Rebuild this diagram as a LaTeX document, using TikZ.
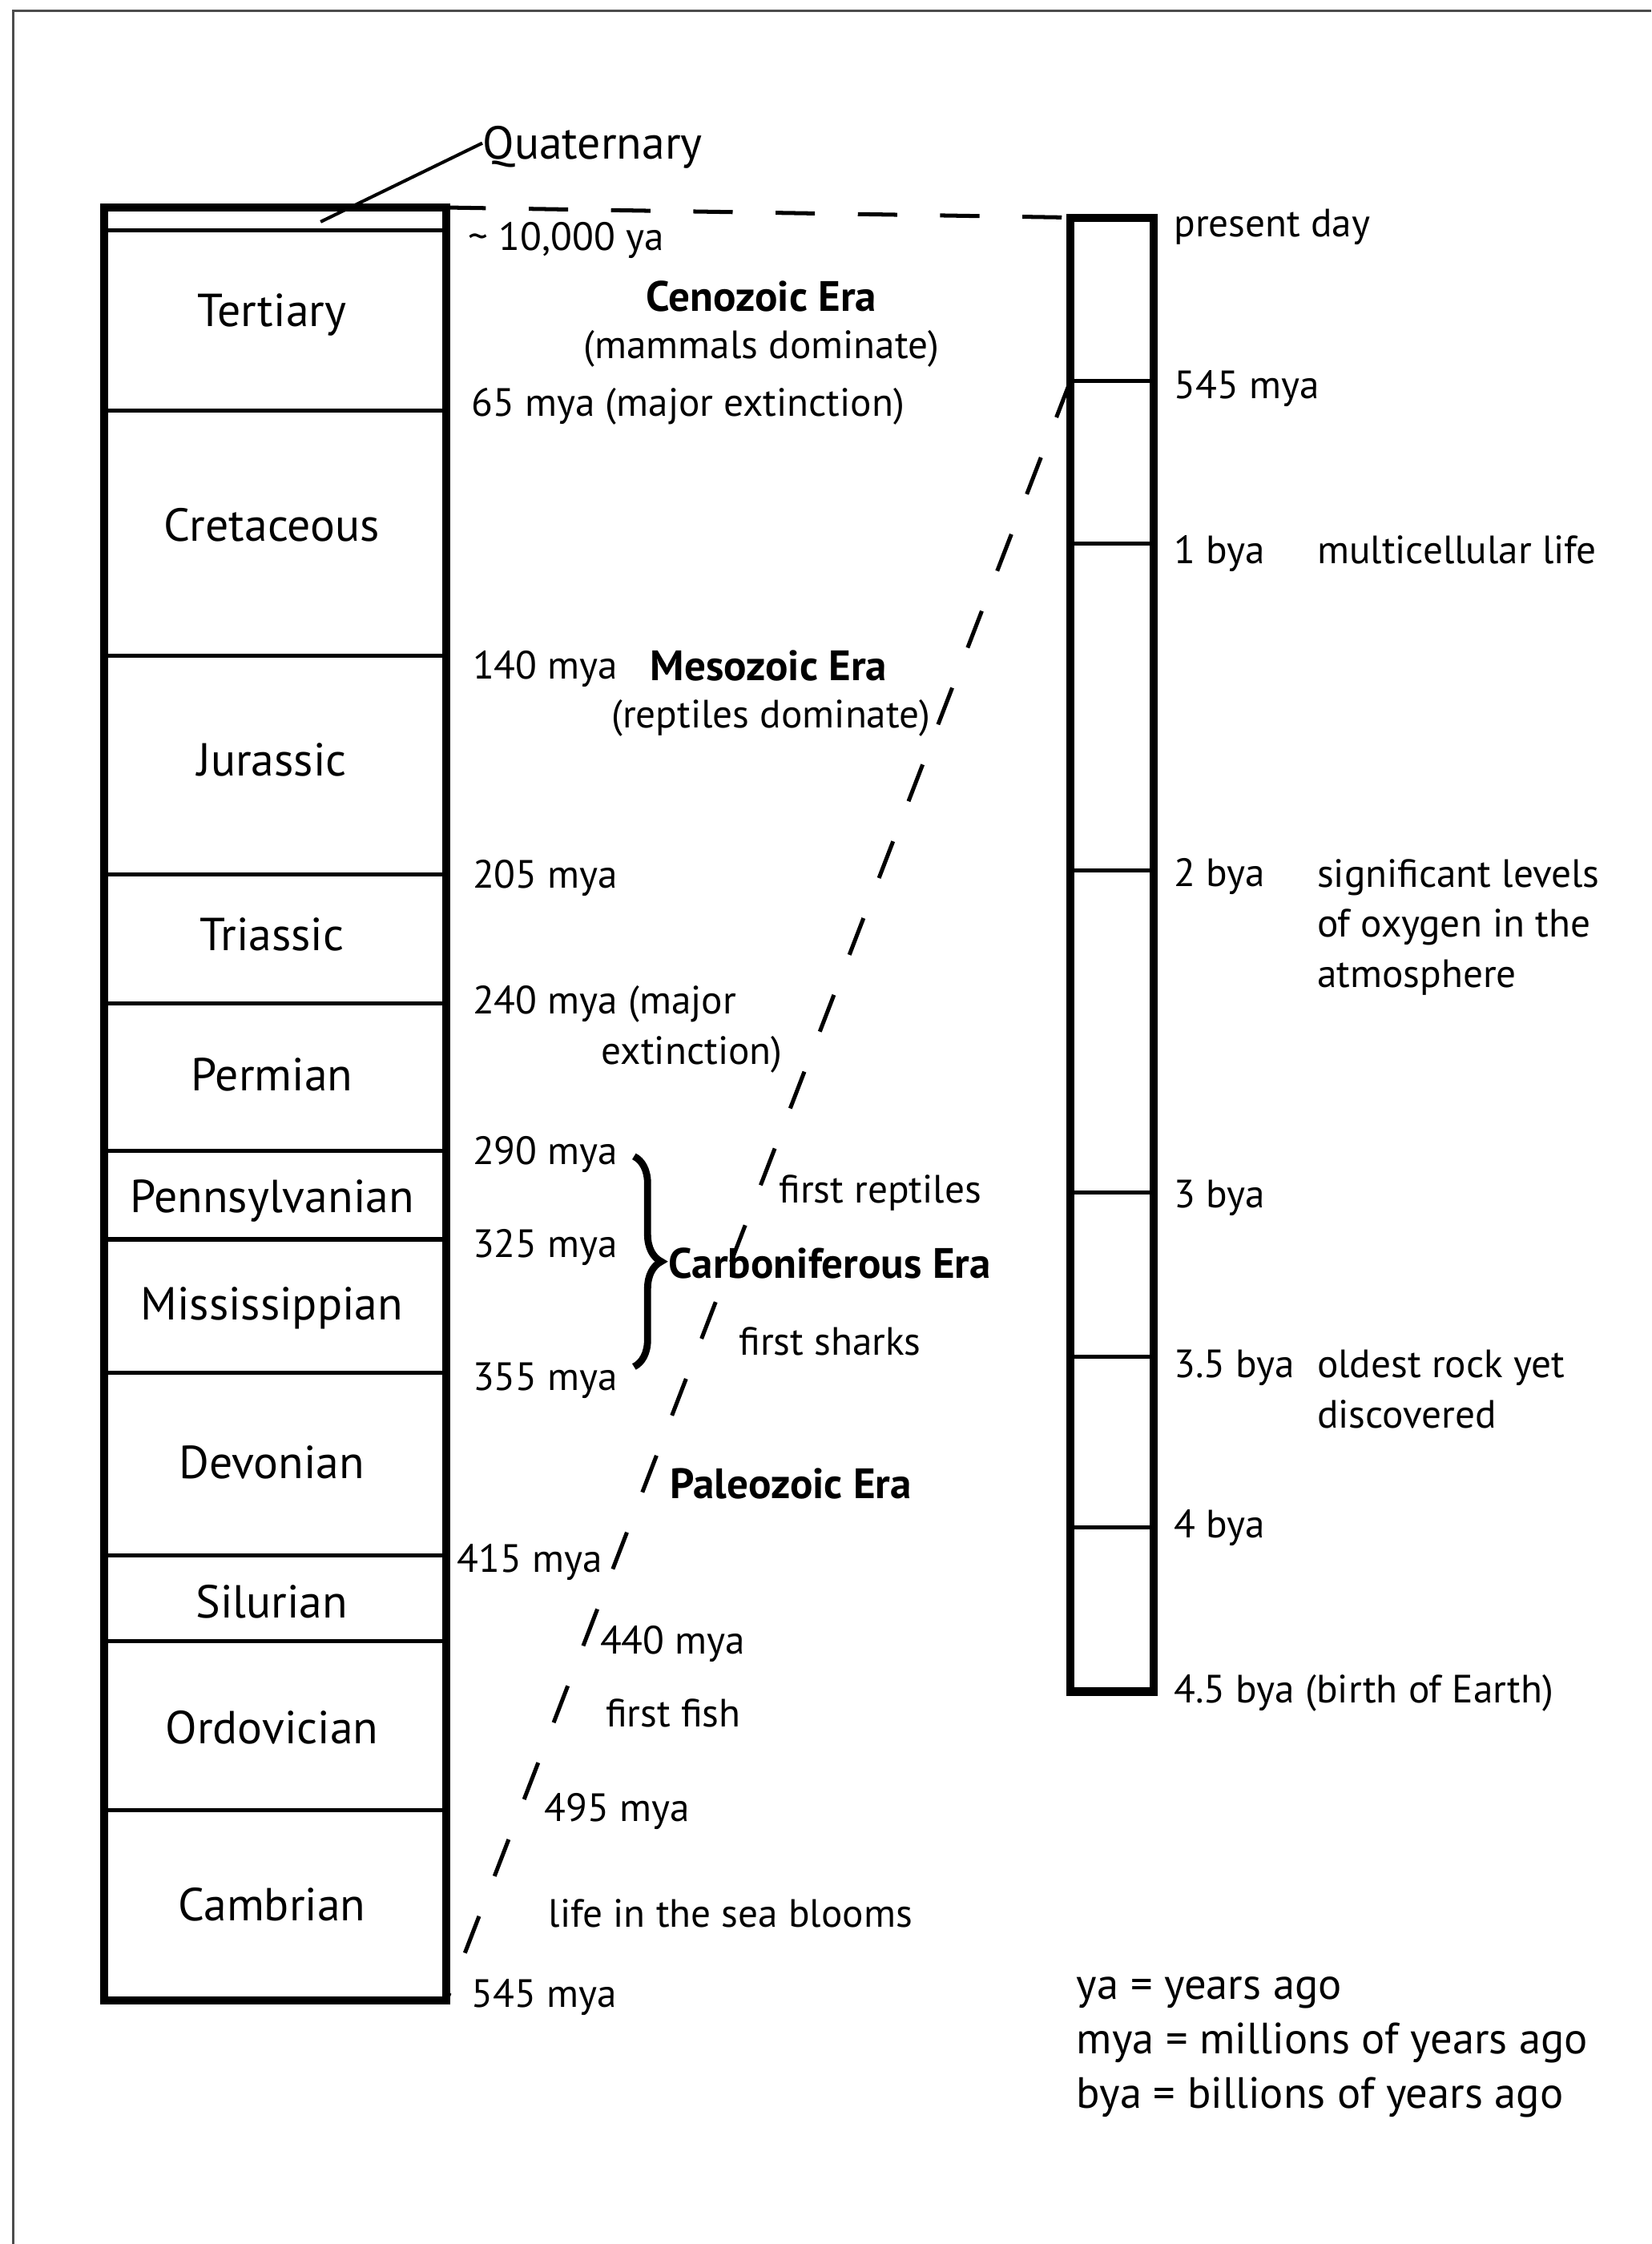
\documentclass[tikz,border=0pt]{standalone}
\usepackage{fontspec}
\setmainfont{PT Sans}
\usetikzlibrary{positioning,decorations.pathreplacing}

\begin{document}
\begin{tikzpicture}
[x=0.02cm,y=-0.02cm,
 every node/.style={inner sep=0pt,font=\fontsize{15.7}{19.9}\selectfont},
 datelbl/.style={anchor=west,text height=11pt,text depth=0pt},
 period/.style={font=\fontsize{18.4}{22}\selectfont,text height=12.9pt,text depth=0pt},
 era/.style={datelbl,font=\fontsize{16.9}{20}\selectfont\bfseries,text height=11.8pt},
 column/.style={line width=3.2pt},
 divider/.style={line width=1.6pt},
 timeline/.style={line width=1.6pt,dash pattern=on 0.55cm off 0.6cm}]

\useasboundingbox (0,0) rectangle (1154,1568);
\draw[gray!60!black,line width=1pt] (9,1568) -- (9,7.5) -- (1154,7.5);

% geological column
\coordinate (LT) at (73,145);
\coordinate (LB) at (312,1398);
\draw[column] (LT) rectangle (LB);
\foreach \y in {161,287,458,611,701,804,866,959,1087,1147,1265}
  \draw[divider] (73,\y) -- (312,\y);

\foreach \name/\y in {Tertiary/217,Cretaceous/367,Jurassic/531,Triassic/653,Permian/751,
  Pennsylvanian/836,Mississippian/911,Devonian/1022,Silurian/1119,Ordovician/1207,Cambrian/1331}
  \node[period] (\name) at (190,\y) {\name};

% earth history column
\coordinate (RT) at (748,152);
\coordinate (RB) at (806,1182);
\coordinate (R545) at (748,266);
\draw[column] (RT) rectangle (RB);
\foreach \y in {266,380,608,833,948,1067}
  \draw[divider] (748,\y) -- (806,\y);

\draw[timeline] (LT -| LB) -- (RT);
\draw[timeline] (R545) -- (LB);

\node[period,anchor=west] (Quaternary) at (337,100) {Quaternary};
\draw[line width=1.3pt] (224,155) -- (Quaternary.west);

% middle labels
\node[datelbl] (q10k) at (327,165) {\textasciitilde\ 10,000 ya};
\node[era,anchor=center] (ceno) at (532,207) {Cenozoic Era};
\node[datelbl,anchor=center] (mammals) at (532,241) {(mammals dominate)};
\node[datelbl] (m65) at (329,281) {65 mya (major extinction)};
\node[datelbl] (m140) at (330,465) {140 mya};
\node[era] (meso) at (454,465) {Mesozoic Era};
\node[datelbl] (reptdom) at (427,499) {(reptiles dominate)};
\node[datelbl] (m205) at (330,611) {205 mya};
\node[datelbl] (m240) at (330,699) {240 mya (major};
\node[datelbl] (ext) at (420,734) {extinction)};
\node[datelbl] (m290) at (330,804) {290 mya};
\node[datelbl] (m325) at (330,869) {325 mya};
\node[datelbl] (m355) at (330,962) {355 mya};
\draw[decorate,decoration={brace,amplitude=0.38cm},line width=2.8pt] (443,808) -- (443,955);
\node[era] (carb) at (467,883) {Carboniferous Era};
\node[datelbl] (reptiles) at (544,831) {first reptiles};
\node[datelbl] (sharks) at (516,937) {first sharks};
\node[era] (paleo) at (468,1037) {Paleozoic Era};
\node[datelbl] (m415) at (319,1089) {415 mya};
\node[datelbl] (m440) at (419,1146) {440 mya};
\node[datelbl] (fish) at (423,1197) {first fish};
\node[datelbl] (m495) at (380,1263) {495 mya};
\node[datelbl] (blooms) at (383,1337) {life in the sea blooms};
\node[datelbl] (m545) at (329,1393) {545 mya};

% right labels
\node[datelbl] (present) at (820,156) {present day};
\node[datelbl] (r545) at (820,269) {545 mya};
\node[datelbl] (b1) at (820,384) {1 bya};
\node[datelbl] (multi) at (920,384) {multicellular life};
\node[datelbl] (b2) at (820,610) {2 bya};
\node[anchor=north west,align=left] (oxygen) at (920,600) {significant levels\\of oxygen in the\\atmosphere};
\node[datelbl] (b3) at (820,834) {3 bya};
\node[datelbl] (b35) at (820,953) {3.5 bya};
\node[anchor=north west,align=left] (rock) at (920,943) {oldest rock yet\\discovered};
\node[datelbl] (b4) at (820,1065) {4 bya};
\node[datelbl] (b45) at (820,1180) {4.5 bya (birth of Earth)};

% legend
\node[anchor=north west,align=left,font=\fontsize{17.4}{21.6}\selectfont] (legend) at (752,1381)
  {ya = years ago\\mya = millions of years ago\\bya = billions of years ago};

\end{tikzpicture}
\end{document}
